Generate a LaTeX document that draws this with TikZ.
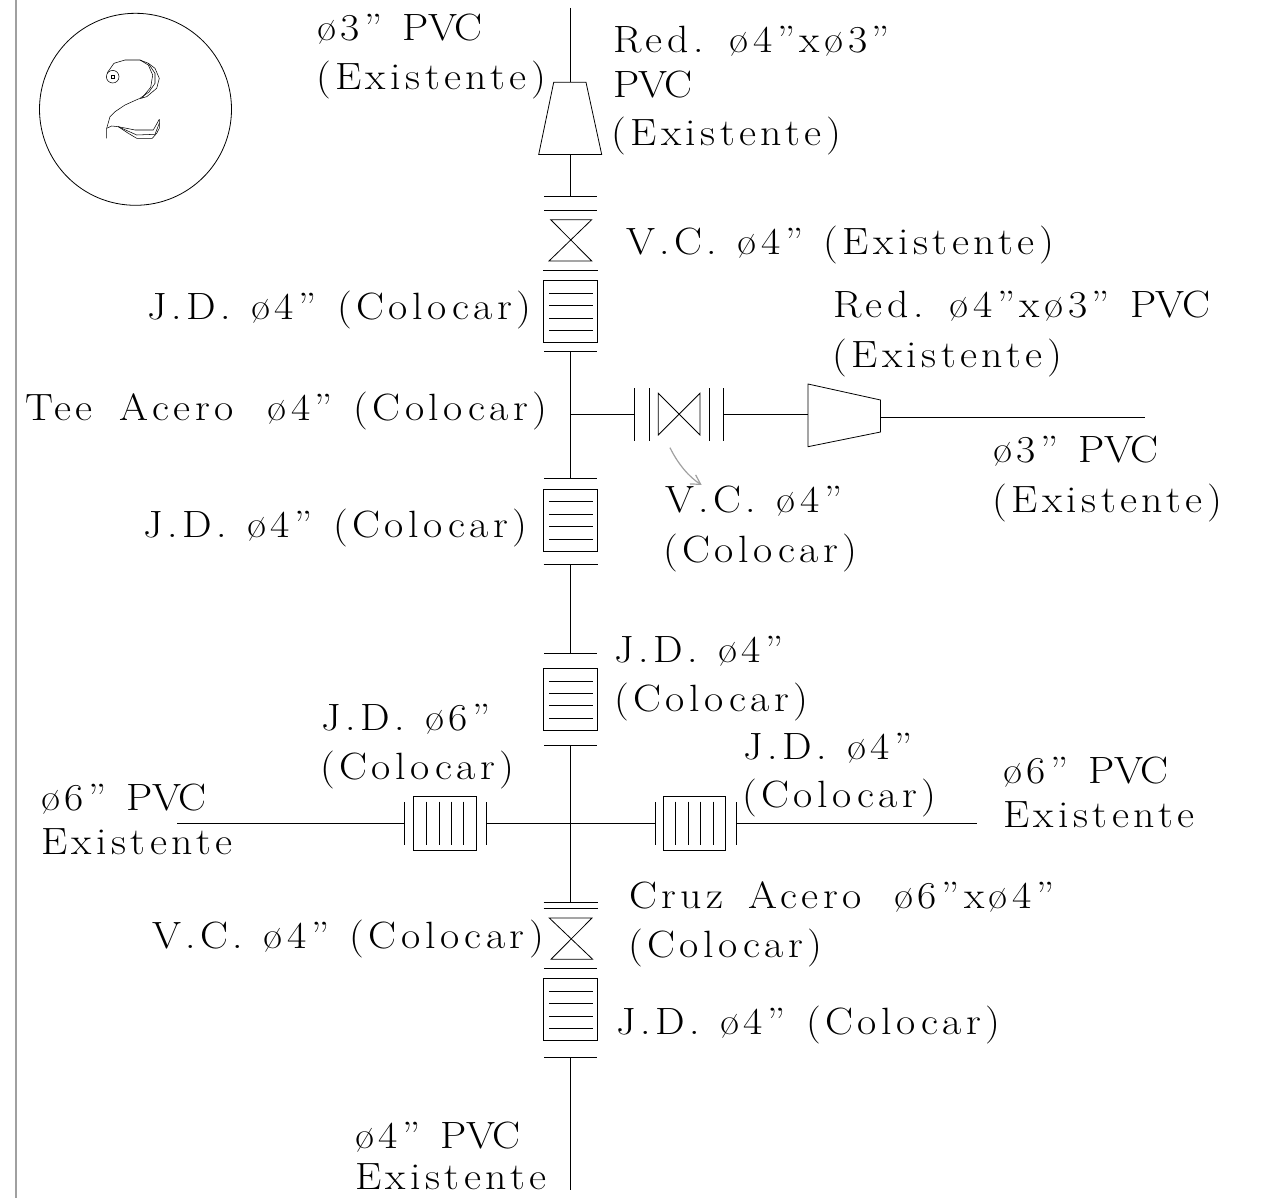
\documentclass[tikz,border=0pt]{standalone}
\usepackage{fontspec}
\usepackage{tikz}
\usetikzlibrary{arrows.meta}
\newfontfamily\cadfont[FakeStretch=1.1,LetterSpace=11.8,WordSpace=1.2]{lmroman17-regular.otf}
\newcommand{\pvc}{{\addfontfeature{LetterSpace=-3}PVC}}
\tikzset{
  pipe/.style={line width=0.6pt},
  txt/.style={anchor=base west,inner sep=0pt,outer sep=0pt,font=\cadfont\fontsize{28.5}{30}\selectfont},
}

\begin{document}
\begin{tikzpicture}[x=0.75pt,y=0.75pt,yscale=-1,xscale=1]
\useasboundingbox (0,0) rectangle (1281,1198);

%Left border
\draw [line width=2.2pt,color={rgb, 255:red, 160; green, 160; blue, 160 }] (16,0) -- (16,1198) ;

%Detail circle
\draw [pipe] (135.5,109.3) circle [x radius= 96, y radius= 96] ;
%Numeral
\draw [line width=0.4pt] (112.7,76.7) circle [x radius= 6.3, y radius= 6.3] ;
\draw [line width=0.4pt] (111.7,75.3) rectangle (114,78) ;
\draw [line width=0.4pt] (107.3,72.7) -- (114,63.3) -- (125,60) -- (140,60) -- (148.3,63.3) -- (155,68.3) -- (159.3,78.3) -- (156.7,88.3) -- (146.7,96.7) -- (138.3,99) -- (125,105) -- (115,111.7) -- (110,116.7) -- (106.7,128.3) -- (106.7,138.3) ;
\draw [line width=0.4pt] (140,60) -- (148.3,65) -- (152.7,75) -- (150.7,87.3) -- (141.7,98.3) ;
\draw [line width=0.4pt] (148.3,63.3) -- (155,73.3) -- (155,83.3) -- (149,92) -- (140,98.3) ;
\draw [line width=0.4pt] (106.7,128.3) -- (111.7,126) -- (118.3,126.7) -- (128.3,133.3) -- (136.7,138.3) -- (152.3,138.3) -- (156.7,133.3) -- (159.3,128.3) -- (159.3,119.3) ;
\draw [line width=0.4pt] (118.3,126.7) -- (135,130) -- (153.3,130) -- (159.3,119.3) ;
\draw [line width=0.4pt] (118.3,126.7) -- (136.7,135) -- (155,134.3) -- (159.3,123.3) ;

%Main line junctions
\coordinate (tee) at (570.7,414.7);
\coordinate (cross) at (570.7,823.3);

%Top pipe and reducer
\draw [pipe] (570,8) -- (570,82.3) ;
\draw [pipe] (553.7,82.3) -- (586,82.3) -- (601.7,154.5) -- (538.7,154.5) -- cycle ;
\draw [pipe] (570.7,154.5) -- (570.7,196.7) ;
\draw [pipe] (544,196.7) -- (597,196.7) ;
\draw [pipe] (544,210.3) -- (597,210.3) ;
%Top valve
\draw [pipe] (550.7,219.7) -- (591.7,219.7) -- (549,261) -- (591.7,261) -- cycle ;
\draw [pipe] (543,270.3) -- (598,270.3) ;
%Joint 1
\draw [pipe] (543.3,280.7) rectangle (597.7,342.7) ;
\draw [pipe] (549,293.3) -- (592.5,293.3) (549,305.7) -- (592.5,305.7) (549,318) -- (592.5,318) (549,330.3) -- (592.5,330.3) ;
\draw [pipe] (544,351) -- (597,351) ;
\draw [pipe] (570.7,351) -- (tee) -- (570.7,478.7) ;

%Branch to the right
\draw [pipe] (tee) -- (634.3,414.7) ;
\draw [pipe] (634.3,388.3) -- (634.3,441) ;
\draw [pipe] (649.3,388.3) -- (649.3,441) ;
\draw [pipe] (658.3,393.3) -- (700,435) -- (700,393.3) -- (658.3,435) -- cycle ;
\draw [pipe] (709.3,388.3) -- (709.3,441) ;
\draw [pipe] (723.7,388.3) -- (723.7,441) ;
\draw [pipe] (723.7,414.7) -- (808,414.7) ;
\draw [pipe] (808,384) -- (880.5,400) -- (880.5,432) -- (808,446.7) -- cycle ;
\draw [pipe] (880.5,417) -- (1145,417) ;
%Leader
\draw [line width=0.9pt,color={rgb, 255:red, 160; green, 160; blue, 160 },-{Straight Barb[length=7pt,width=8pt]}] (670,447.7) .. controls (678,464) and (689,477) .. (701.7,485) ;

%Joint 2
\draw [pipe] (544,478.7) -- (597,478.7) ;
\draw [pipe] (543.3,489.3) rectangle (597.7,551) ;
\draw [pipe] (549,501.7) -- (592.5,501.7) (549,514) -- (592.5,514) (549,526.3) -- (592.5,526.3) (549,539) -- (592.5,539) ;
\draw [pipe] (543.7,564) -- (598,564) ;
\draw [pipe] (570.7,564) -- (570.7,653.3) ;
%Joint 3
\draw [pipe] (544,653.3) -- (597,653.3) ;
\draw [pipe] (543.3,668.3) rectangle (597.7,730) ;
\draw [pipe] (549,681) -- (592.5,681) (549,693) -- (592.5,693) (549,705.7) -- (592.5,705.7) (549,718) -- (592.5,718) ;
\draw [pipe] (544,745.3) -- (597,745.3) ;
\draw [pipe] (570.7,745.3) -- (cross) -- (570.7,902.3) ;

%Left branch
\draw [pipe] (177,823.3) -- (404.7,823.3) ;
\draw [pipe] (404.7,802.3) -- (404.7,845.3) ;
\draw [pipe] (413.7,796.3) rectangle (476.3,850.7) ;
\draw [pipe] (426.5,801.7) -- (426.5,845.3) (439,801.7) -- (439,845.3) (451,801.7) -- (451,845.3) (463.7,801.7) -- (463.7,845.3) ;
\draw [pipe] (486,802.3) -- (486,845.3) ;
\draw [pipe] (486,823.3) -- (cross) ;
%Right branch
\draw [pipe] (cross) -- (655.7,823.3) ;
\draw [pipe] (655.7,802.3) -- (655.7,845.3) ;
\draw [pipe] (663.3,796.3) rectangle (725.3,850.7) ;
\draw [pipe] (675.7,801.7) -- (675.7,845.3) (688.3,801.7) -- (688.3,845.3) (700.3,801.7) -- (700.3,845.3) (713,801.7) -- (713,845.3) ;
\draw [pipe] (736.3,802.3) -- (736.3,845.3) ;
\draw [pipe] (736.3,823.3) -- (977,823.3) ;

%Lower valve
\draw [pipe] (543.7,902.3) -- (597.7,902.3) ;
\draw [pipe] (543.7,908.3) -- (597.7,908.3) ;
\draw [pipe] (549.3,918) -- (592,918) -- (551,959.3) -- (592.7,959.3) -- cycle ;
\draw [pipe] (544,968.7) -- (597,968.7) ;
%Joint 4
\draw [pipe] (543.3,978.7) rectangle (597.7,1040.7) ;
\draw [pipe] (549,991) -- (592.5,991) (549,1003.3) -- (592.5,1003.3) (549,1016) -- (592.5,1016) (549,1028.3) -- (592.5,1028.3) ;
\draw [pipe] (544,1057.7) -- (597,1057.7) ;
\draw [pipe] (570.7,1057.7) -- (570.7,1190) ;

% Text Node
\draw (317,41) node [txt] (pvcTopA) {ø3” \pvc};
\draw (316,90) node [txt] (pvcTopB) {(Existente)};
\draw (613,53) node [txt] (redTopA) {Red. ø4”xø3”};
\draw (613,98) node [txt] (redTopB) {\pvc};
\draw (611,146) node [txt] (redTopC) {(Existente)};
\draw (626,255) node [txt] (vcTop) {V.C. ø4” (Existente)};
\draw (147,320) node [txt] (jdOne) {J.D. ø4” (Colocar)};
\draw (833,317) node [txt] (redBranchA) {Red. ø4”xø3” \pvc};
\draw (832,367) node [txt] (redBranchB) {(Existente)};
\draw (25,420) node [txt] (teeLabel) {Tee\hspace{5pt} Acero\hspace{10pt} ø4” (Colocar)};
\draw (993,462) node [txt] (pvcBranchA) {ø3” \pvc};
\draw (992,512) node [txt] (pvcBranchB) {(Existente)};
\draw (143,537) node [txt] (jdTwo) {J.D. ø4” (Colocar)};
\draw (665,512) node [txt] (vcBranchA) {V.C. ø4”};
\draw (663,562) node [txt] (vcBranchB) {(Colocar)};
\draw (614,662) node [txt] (jdThreeA) {J.D. ø4”};
\draw (614,711) node [txt] (jdThreeB) {(Colocar)};
\draw (321,730) node [txt] (jdLeftA) {J.D. ø6”};
\draw (320,779) node [txt] (jdLeftB) {(Colocar)};
\draw (743,759) node [txt] (jdRightA) {J.D. ø4”};
\draw (742,807) node [txt] (jdRightB) {(Colocar)};
\draw (1003,783) node [txt] (pvcRightA) {ø6” \pvc};
\draw (1003,827) node [txt] (pvcRightB) {Existente};
\draw (41,810) node [txt] (pvcLeftA) {ø6” \pvc};
\draw (41,854) node [txt] (pvcLeftB) {Existente};
\draw (629,908) node [txt] (cruzA) {Cruz\hspace{3pt} Acero\hspace{9pt} ø6”xø4”};
\draw (628,957) node [txt] (cruzB) {(Colocar)};
\draw (152,948) node [txt] (vcLow) {V.C. ø4” (Colocar)};
\draw (616,1034) node [txt] (jdFour) {J.D. ø4” (Colocar)};
\draw (355,1148) node [txt] (pvcLowA) {ø4” \pvc};
\draw (355,1189) node [txt] (pvcLowB) {Existente};

\end{tikzpicture}
\end{document}
